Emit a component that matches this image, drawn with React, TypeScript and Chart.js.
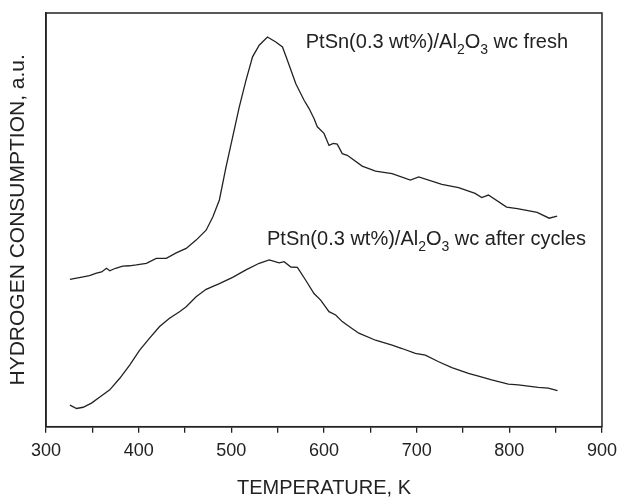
import React, { useEffect, useRef } from "react";
import { Chart, registerables } from "chart.js";

Chart.register(...registerables);

// Temperature (K) and hydrogen consumption (a.u.) – fresh catalyst
const freshT = [325.8, 333, 340.1, 347, 354.5, 360, 365.3, 368.8, 375, 382.8, 390, 397.5, 408.3, 419, 429.8, 440.5, 451.3, 462, 472.8, 480, 487.1, 494.3, 501.4, 508.6, 515.8, 522.9, 530.1, 539, 548, 555.2, 560.5, 569.6, 578.5, 583.9, 589.2, 592.8, 600, 605.4, 610, 614.3, 619.7, 625.1, 641.2, 655.6, 673.5, 693.2, 702.2, 727.2, 745.2, 763.1, 770.2, 777.4, 797.1, 808.6, 830, 843, 851.6];
const freshH = [35.6, 35.9, 36.2, 36.5, 37.1, 37.4, 38.3, 37.7, 38.3, 38.8, 38.9, 39.1, 39.5, 40.7, 40.7, 42.0, 43.1, 45.1, 47.5, 50.7, 54.8, 62.8, 70.0, 77.3, 83.7, 89.4, 92.2, 94.2, 93.0, 91.8, 88.6, 82.9, 78.9, 76.9, 74.5, 72.5, 70.9, 68.0, 68.5, 68.3, 66.0, 65.6, 63.0, 61.8, 61.2, 59.6, 60.4, 58.6, 57.8, 56.4, 55.4, 56.0, 53.1, 52.7, 51.8, 50.4, 50.9];

// After cycles
const cycledT = [325.8, 333, 340.1, 349.1, 358.1, 368.8, 379.6, 390.3, 401.1, 411.8, 422.6, 433.3, 444.1, 451.3, 462, 472.8, 487.1, 501.4, 515.8, 530.1, 540.9, 551.6, 557, 564.2, 571.3, 580.3, 589.2, 596.4, 605.4, 612.6, 619.7, 628.7, 637.6, 655.6, 673.5, 684.2, 698.6, 709.4, 723.7, 738, 755.9, 766.7, 781, 798.9, 809.7, 831.2, 842, 852];
const cycledH = [5.2, 4.4, 4.7, 5.7, 7.2, 8.9, 11.7, 14.9, 18.5, 21.4, 24.2, 26.2, 27.8, 29.0, 31.4, 33.2, 34.6, 36.1, 37.9, 39.5, 40.3, 39.6, 39.9, 38.6, 38.5, 35.4, 32.2, 30.6, 27.8, 27.0, 25.4, 24.0, 22.6, 20.9, 19.7, 18.9, 17.7, 17.3, 15.7, 14.3, 12.9, 12.2, 11.3, 10.3, 10.1, 9.5, 9.3, 8.7];

const xTitle = "TEMPERATURE, K";
const yTitle = "HYDROGEN CONSUMPTION, a.u.";

// Annotation text parts: [text, isSubscript]
const freshLabel: [string, boolean][] = [["PtSn(0.3 wt%)/Al", false], ["2", true], ["O", false], ["3", true], [" wc fresh", false]];
const cycledLabel: [string, boolean][] = [["PtSn(0.3 wt%)/Al", false], ["2", true], ["O", false], ["3", true], [" wc after cycles", false]];
// anchors in data units (K, a.u.) – left baseline
const freshAnchor = { t: 580.3, v: 91.5 };
const cycledAnchor = { t: 538.5, v: 43.9 };

const FONT = '"Liberation Sans", Arial, Helvetica, sans-serif';
const INK = "#222";

const framePlugin = {
  id: "frameAndLabels",
  afterDraw(chart: any) {
    const { ctx, chartArea: a, scales } = chart;
    ctx.save();
    ctx.strokeStyle = INK;
    ctx.lineWidth = 1.5;
    ctx.strokeRect(a.left, a.top, a.right - a.left, a.bottom - a.top);
    const drawLabel = (parts: [string, boolean][], anchor: { t: number; v: number }) => {
      let x = scales.x.getPixelForValue(anchor.t);
      const y = scales.y.getPixelForValue(anchor.v);
      ctx.fillStyle = INK;
      ctx.textBaseline = "alphabetic";
      ctx.textAlign = "left";
      for (const [txt, sub] of parts) {
        ctx.font = sub ? `14px ${FONT}` : `20px ${FONT}`;
        ctx.fillText(txt, x, sub ? y + 6 : y);
        x += ctx.measureText(txt).width;
      }
    };
    drawLabel(freshLabel, freshAnchor);
    drawLabel(cycledLabel, cycledAnchor);
    ctx.restore();
  },
};

export default function App() {
  const ref = useRef<HTMLCanvasElement>(null);
  useEffect(() => {
    document.body.style.margin = "0";
    const chart = new Chart(ref.current!, {
      type: "line",
      data: {
        datasets: [
          {
            label: "fresh",
            data: freshT.map((t, i) => ({ x: t, y: freshH[i] })),
            borderColor: INK,
            borderWidth: 1.3,
            pointRadius: 0,
            tension: 0,
          },
          {
            label: "after cycles",
            data: cycledT.map((t, i) => ({ x: t, y: cycledH[i] })),
            borderColor: INK,
            borderWidth: 1.3,
            pointRadius: 0,
            tension: 0,
          },
        ],
      },
      options: {
        animation: false,
        responsive: true,
        maintainAspectRatio: false,
        layout: { padding: { top: 13, right: 21, left: 0, bottom: 0 } },
        plugins: { legend: { display: false }, tooltip: { enabled: false } },
        scales: {
          x: {
            type: "linear",
            min: 300,
            max: 900,
            afterFit: (s: any) => {
              s.height = 73.3;
            },
            ticks: {
              stepSize: 50,
              autoSkip: false,
              maxRotation: 0,
              padding: 8,
              color: INK,
              font: { family: FONT, size: 18 },
              callback: (v: any) => (Number(v) % 100 === 0 ? String(v) : ""),
            },
            grid: { display: true, drawOnChartArea: false, drawTicks: true, tickLength: 6, color: INK, lineWidth: 1.3 },
            border: { display: true, color: INK, width: 1.5 },
            title: { display: true, text: xTitle, color: INK, font: { family: FONT, size: 20 }, padding: { top: 0, bottom: 0 } },
          },
          y: {
            type: "linear",
            min: 0,
            max: 100,
            afterFit: (s: any) => {
              s.width = 46;
            },
            ticks: { display: false },
            grid: { display: false },
            border: { display: true, color: INK, width: 1.5 },
            title: { display: true, text: yTitle, color: INK, font: { family: FONT, size: 21 }, padding: { top: 6, bottom: 0 } },
          },
        },
      },
      plugins: [framePlugin],
    });
    return () => chart.destroy();
  }, []);
  return (
    <div style={{ width: 625, height: 500, position: "relative", background: "#fff" }}>
      <canvas ref={ref} />
    </div>
  );
}
